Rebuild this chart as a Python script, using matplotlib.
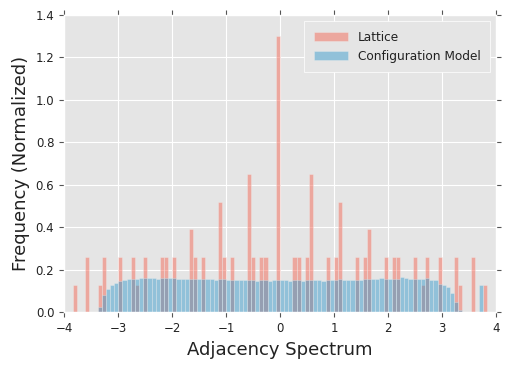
import numpy as np
import matplotlib
matplotlib.use("Agg")
import matplotlib.pyplot as plt

# histogram bins shared by both series
BIN_LO, BIN_HI, N_BINS = -3.838, 3.838, 100

# lattice: non-empty bin indices and their normalized heights
lattice_bins = [0, 3, 6, 7, 11, 14, 15, 17, 21, 22, 24, 28, 29, 31, 35, 36, 38, 42, 43, 45, 46,
                49,
                53, 54, 56, 57, 61, 63, 64, 68, 70, 71, 75, 77, 78, 82, 84, 85, 88, 92, 93, 96, 99]
lattice_heights = [0.13, 0.26, 0.13, 0.26, 0.26, 0.26, 0.13, 0.26, 0.26, 0.26, 0.26, 0.39, 0.26,
                   0.26, 0.52, 0.26, 0.26, 0.65, 0.26, 0.26, 0.26,
                   1.30,
                   0.26, 0.26, 0.26, 0.65, 0.26, 0.26, 0.52, 0.26, 0.26, 0.39, 0.26, 0.26, 0.26,
                   0.26, 0.13, 0.26, 0.26, 0.26, 0.13, 0.26, 0.13]

# configuration model: height of every bin, left to right
config_heights = [
    0, 0, 0, 0, 0, 0, 0.025, 0.080, 0.111, 0.127,
    0.140, 0.147, 0.150, 0.157, 0.157, 0.158, 0.161, 0.162, 0.162, 0.161,
    0.157, 0.162, 0.162, 0.160, 0.160, 0.159, 0.157, 0.156, 0.157, 0.155,
    0.157, 0.158, 0.156, 0.155, 0.152, 0.155, 0.155, 0.152, 0.153, 0.153,
    0.150, 0.150, 0.150, 0.150, 0.147, 0.152, 0.152, 0.148, 0.152, 0.150,
    0.150, 0.152, 0.147, 0.150, 0.150, 0.147, 0.152, 0.150, 0.150, 0.150,
    0.147, 0.153, 0.150, 0.150, 0.155, 0.150, 0.153, 0.153, 0.153, 0.152,
    0.155, 0.158, 0.158, 0.157, 0.160, 0.157, 0.158, 0.157, 0.157, 0.165,
    0.160, 0.158, 0.158, 0.158, 0.157, 0.160, 0.152, 0.150, 0.134, 0.127,
    0.118, 0.090, 0.050, 0.012, 0, 0, 0, 0, 0.128, 0,
]

TEXT = "#222222"

plt.style.use("ggplot")
plt.rcParams.update({
    "font.family": ["DejaVu Sans"],
    "xtick.top": True, "ytick.right": True,
    "xtick.color": "#555555", "ytick.color": "#555555",
    "xtick.labelcolor": TEXT, "ytick.labelcolor": TEXT,
    "xtick.labelsize": 8.5, "ytick.labelsize": 8.5,
    "axes.labelcolor": TEXT,
})

edges = np.linspace(BIN_LO, BIN_HI, N_BINS + 1)
centers = (edges[:-1] + edges[1:]) / 2

fig = plt.figure(figsize=(5.09, 3.68), dpi=100)
ax = fig.add_axes([64 / 509, 1 - 312.3 / 368, 432 / 509, 297.3 / 368])

ax.hist(centers[lattice_bins], bins=edges, weights=lattice_heights,
        color="#F46A58", alpha=0.5, edgecolor="#EEEEEE", linewidth=0.5, label="Lattice")
ax.hist(centers, bins=edges, weights=config_heights,
        color="#2C97CC", alpha=0.45, edgecolor="#EEEEEE", linewidth=0.5, label="Configuration Model")

ax.set_xlim(-4, 4)
ax.set_ylim(0, 1.4)
ax.set_xlabel("Adjacency Spectrum", fontsize=13)
ax.set_ylabel("Frequency (Normalized)", fontsize=13)

leg = ax.legend(loc="upper right", fontsize=8.7, fancybox=False, framealpha=1,
                facecolor="#E5E5E5", edgecolor="white", borderpad=0.8, handlelength=2.8)
for t in leg.get_texts():
    t.set_color(TEXT)

fig.savefig("out.png", dpi=100)
